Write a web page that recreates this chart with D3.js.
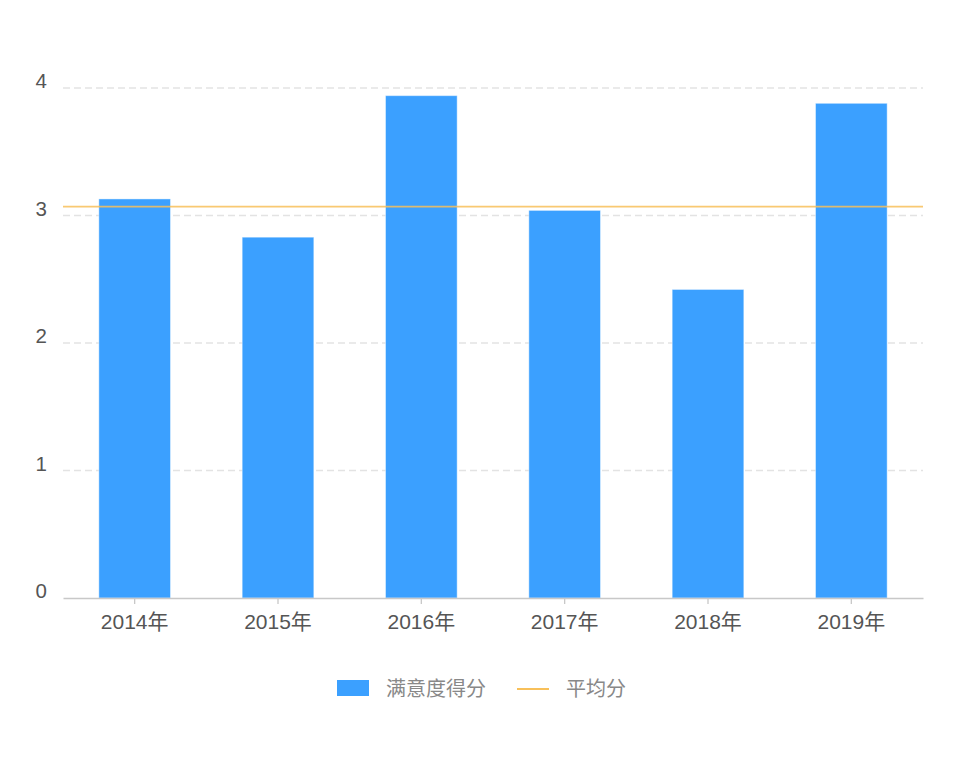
<!DOCTYPE html>
<html><head><meta charset="utf-8">
<script src="https://cdn.jsdelivr.net/npm/d3@7"></script>
<style>body{margin:0;background:#fff;} svg{display:block;font-family:"Helvetica Neue",Helvetica,Arial,"Noto Sans CJK SC",sans-serif;}</style>
</head><body><svg id="c" width="956" height="780"></svg>
<script>
const categories = ["2014年","2015年","2016年","2017年","2018年","2019年"];
const scores = [3.13, 2.83, 3.94, 3.04, 2.42, 3.88];
const average = 3.07;
const yTicks = [0, 1, 2, 3, 4];
const seriesNames = ["满意度得分", "平均分"];

const svg = d3.select("#c");
const m = {left: 63, right: 33, top: 88, bottom: 182};
const W = 956, H = 780;
const x = d3.scaleBand().domain(categories).range([m.left, W - m.right]).paddingInner(0).paddingOuter(0);
const y = d3.scaleLinear().domain([0, 4]).range([H - m.bottom, m.top]);
const font = "\"Helvetica Neue\",Helvetica,Arial,\"Noto Sans CJK SC\",sans-serif";

// grid lines
svg.append("g").selectAll("line").data(yTicks.filter(d => d > 0)).join("line")
  .attr("x1", m.left).attr("x2", W - m.right)
  .attr("y1", d => y(d)).attr("y2", d => y(d))
  .attr("stroke", "#e3e3e3").attr("stroke-width", 1.3).attr("stroke-dasharray", "7,4");

// y axis labels
const yAxis = d3.axisLeft(y).tickValues(yTicks).tickSize(0).tickPadding(16).tickFormat(d3.format("d"));
const yg = svg.append("g").attr("transform", `translate(${m.left},0)`).call(yAxis);
yg.select(".domain").remove();
yg.selectAll("text").attr("font-size", 20.5).attr("fill", "#555").attr("font-family", font).attr("dy", "-0.02em");

// bars
const bw = x.bandwidth() * 0.5;
svg.append("g").selectAll("rect").data(scores).join("rect")
  .attr("x", (d, i) => x(categories[i]) + x.bandwidth() / 2 - bw / 2)
  .attr("width", bw)
  .attr("y", d => y(d))
  .attr("height", d => y(0) - y(d))
  .attr("fill", "#3BA0FF")
  .attr("stroke", "rgba(255,255,255,0.45)").attr("stroke-width", 1);

// x axis
const xAxis = d3.axisBottom(x).tickSize(6).tickPadding(10).tickSizeOuter(0);
const xg = svg.append("g").attr("transform", `translate(0,${y(0)})`).call(xAxis);
xg.select(".domain").attr("stroke", "#c8c8c8").attr("stroke-width", 1.5);
xg.selectAll(".tick line").attr("stroke", "#c8c8c8").attr("stroke-width", 1.3);
xg.selectAll("text").attr("font-size", 21).attr("fill", "#555").attr("font-family", font);

// average line
svg.append("line")
  .attr("x1", m.left).attr("x2", W - m.right)
  .attr("y1", y(average)).attr("y2", y(average))
  .attr("stroke", "#F8C05A").attr("stroke-width", 1.8).attr("opacity", 0.85);

// legend
const lg = svg.append("g");
lg.append("rect").attr("x", 337).attr("y", 680).attr("width", 32).attr("height", 16).attr("fill", "#3BA0FF");
lg.append("text").attr("x", 386).attr("y", 689).attr("dy", "0.36em").text(seriesNames[0])
  .attr("font-size", 20).attr("fill", "#888").attr("font-family", font);
lg.append("line").attr("x1", 517).attr("x2", 549).attr("y1", 689).attr("y2", 689)
  .attr("stroke", "#F8C05A").attr("stroke-width", 2);
lg.append("text").attr("x", 566).attr("y", 689).attr("dy", "0.36em").text(seriesNames[1])
  .attr("font-size", 20).attr("fill", "#888").attr("font-family", font);
</script></body></html>
